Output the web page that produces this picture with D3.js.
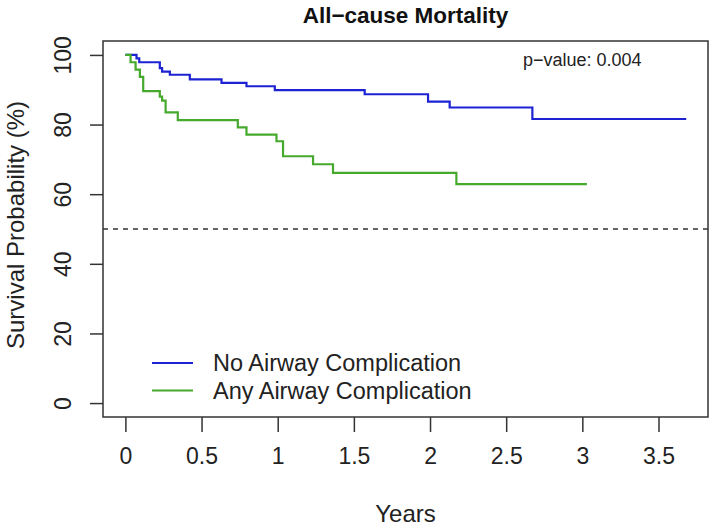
<!DOCTYPE html>
<html>
<head>
<meta charset="utf-8">
<script src="https://cdn.jsdelivr.net/npm/d3@7"></script>
<style>
  body { margin: 0; background: #fff; }
  svg { font-family: "Liberation Sans", Arial, sans-serif; }
</style>
</head>
<body>
<div id="chart"></div>
<script>
// survival steps: [years, survival %]
const noComplication = [
  [0, 100], [0.073, 99.0], [0.091, 97.9], [0.226, 96.2], [0.241, 95.2],
  [0.292, 94.3], [0.423, 93.0], [0.631, 92.0], [0.795, 91.0], [0.981, 89.9],
  [1.571, 88.7], [1.987, 86.6], [2.129, 84.9], [2.672, 81.6], [3.682, 81.6]
];
const anyComplication = [
  [0, 100], [0.034, 97.9], [0.067, 95.8], [0.095, 93.7], [0.117, 89.6],
  [0.226, 88.0], [0.241, 86.9], [0.264, 83.5], [0.344, 81.3], [0.738, 79.2],
  [0.795, 77.1], [0.992, 75.2], [1.035, 70.9], [1.232, 68.6], [1.363, 66.1],
  [2.173, 62.9], [3.030, 62.9]
];
const seriesNames = ["No Airway Complication", "Any Airway Complication"];
const xTicks = [0, 0.5, 1, 1.5, 2, 2.5, 3, 3.5];
const yTicks = [0, 20, 40, 60, 80, 100];
const medianLine = 50;
const pValueText = "p\u2212value: 0.004";

const W = 712, H = 526;
const box = { left: 103, right: 708, top: 41, bottom: 417 };
const colorNo = "#1d22d2";
const colorAny = "#45a92c";
const ink = "#222";

const svg = d3.select("#chart").append("svg")
  .attr("width", W).attr("height", H);

// R style 4% padding on both axes
const xScale = d3.scaleLinear().domain([-0.147, 3.825]).range([box.left, box.right]);
const yScale = d3.scaleLinear().domain([-4, 104]).range([box.bottom, box.top]);

// plot frame
svg.append("rect")
  .attr("x", box.left).attr("y", box.top)
  .attr("width", box.right - box.left).attr("height", box.bottom - box.top)
  .attr("fill", "none").attr("stroke", "#333").attr("stroke-width", 1.5);

// x axis
const xAxis = svg.append("g")
  .attr("transform", `translate(0, ${box.bottom})`)
  .call(d3.axisBottom(xScale).tickValues(xTicks).tickSize(15).tickPadding(16)
    .tickFormat(d => String(d)));
xAxis.select(".domain").remove();
xAxis.selectAll(".tick line").attr("stroke", "#333").attr("stroke-width", 1.5);
xAxis.selectAll("text").attr("fill", ink).style("font-size", "23px")
  .attr("font-family", null);

// y axis with labels parallel to the axis
const yAxis = svg.append("g")
  .attr("transform", `translate(${box.left}, 0)`)
  .call(d3.axisLeft(yScale).tickValues(yTicks).tickSize(13));
yAxis.select(".domain").remove();
yAxis.selectAll(".tick line").attr("stroke", "#333").attr("stroke-width", 1.5);
yAxis.selectAll("text")
  .attr("x", null).attr("dy", null)
  .attr("transform", "translate(-32, 0) rotate(-90)")
  .attr("text-anchor", "middle")
  .attr("fill", ink).style("font-size", "23px")
  .attr("font-family", null);

// reference line at 50 %
svg.append("line")
  .attr("x1", box.left).attr("x2", box.right)
  .attr("y1", yScale(medianLine)).attr("y2", yScale(medianLine))
  .attr("stroke", "#333").attr("stroke-width", 1.3)
  .attr("stroke-dasharray", "5,5");

// KM step curves
const line = d3.line()
  .x(d => xScale(d[0]))
  .y(d => yScale(d[1]))
  .curve(d3.curveStepAfter);

svg.append("path").datum(noComplication)
  .attr("d", line).attr("fill", "none")
  .attr("stroke", colorNo).attr("stroke-width", 2.2);
svg.append("path").datum(anyComplication)
  .attr("d", line).attr("fill", "none")
  .attr("stroke", colorAny).attr("stroke-width", 2.2);

// title and axis labels
svg.append("text")
  .attr("x", (box.left + box.right) / 2).attr("y", 23)
  .attr("text-anchor", "middle").attr("font-weight", "bold")
  .attr("fill", "#111").style("font-size", "22.5px")
  .text("All\u2212cause Mortality");

svg.append("text")
  .attr("x", (box.left + box.right) / 2).attr("y", 522)
  .attr("text-anchor", "middle").attr("fill", ink).style("font-size", "24px")
  .text("Years");

svg.append("text")
  .attr("transform", `translate(24, ${(box.top + box.bottom) / 2 - 4}) rotate(-90)`)
  .attr("text-anchor", "middle").attr("fill", ink).style("font-size", "24px")
  .text("Survival Probability (%)");

// p-value
svg.append("text")
  .attr("x", 523).attr("y", 66)
  .attr("fill", ink).style("font-size", "18px")
  .text(pValueText);

// legend
const legend = svg.append("g");
[colorNo, colorAny].forEach((c, i) => {
  const ly = 363 + i * 27.5;
  legend.append("line")
    .attr("x1", 152).attr("x2", 193).attr("y1", ly).attr("y2", ly)
    .attr("stroke", c).attr("stroke-width", 2.2);
  legend.append("text")
    .attr("x", 213).attr("y", ly + 8)
    .attr("fill", ink).style("font-size", "23.5px")
    .text(seriesNames[i]);
});
</script>
</body>
</html>
